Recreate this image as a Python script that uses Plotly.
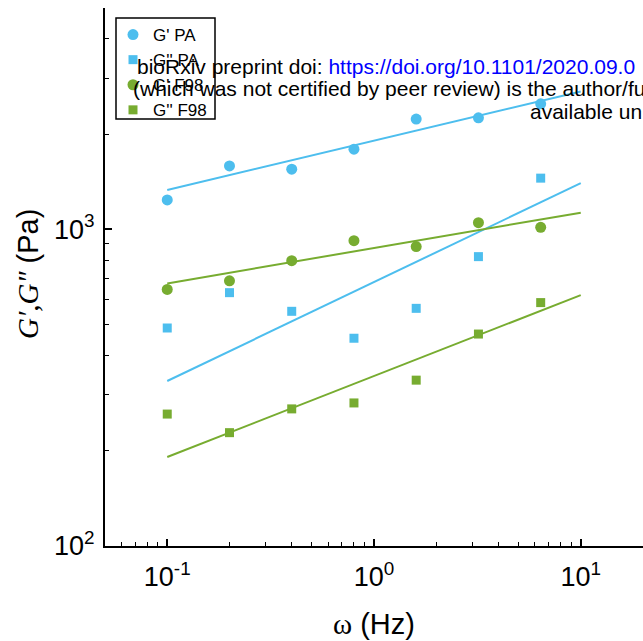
import plotly.graph_objects as go

# ---- data ----
freq = [0.1, 0.2, 0.4, 0.8, 1.6, 3.2, 6.4]
gp_pa = [1238, 1586, 1549, 1791, 2229, 2250, 2492]
gpp_pa = [488, 631, 551, 453, 563, 820, 1451]
gp_f98 = [646, 688, 796, 921, 882, 1050, 1015]
gpp_f98 = [261, 228, 271, 283, 334, 467, 587]

# power-law fit lines (end points at 0.1 Hz and 10 Hz)
fit_x = [0.1, 10]
fit_gp_pa = [1332, 2725]
fit_gpp_pa = [332, 1399]
fit_gp_f98 = [675, 1129]
fit_gpp_f98 = [191, 620]

x_tickvals = [0.1, 1, 10]
x_ticktext = ["10<sup>-1</sup>", "10<sup>0</sup>", "10<sup>1</sup>"]
y_tickvals = [100, 1000]
y_ticktext = ["10<sup>2</sup>", "10<sup>3</sup>"]

BLUE = "#4DBEEE"
GREEN = "#77AC30"
FONT = "Arial, Liberation Sans, sans-serif"
SERIF = "Times New Roman, Liberation Serif, serif"

W, H = 643, 641
ML, MR, MT, MB = 105, 0, 8, 95
PW, PH = W - ML - MR, H - MT - MB


def px(xp):
    return (xp - ML) / PW


def py(yp):
    return (H - MB - yp) / PH


fig = go.Figure()

for fy, col in [(fit_gp_pa, BLUE), (fit_gpp_pa, BLUE), (fit_gp_f98, GREEN), (fit_gpp_f98, GREEN)]:
    fig.add_trace(go.Scatter(x=fit_x, y=fy, mode="lines", line=dict(color=col, width=2),
                             showlegend=False, hoverinfo="skip"))

series = [
    ("G' PA", gp_pa, BLUE, "circle", 11),
    ("G'' PA", gpp_pa, BLUE, "square", 9),
    ("G' F98", gp_f98, GREEN, "circle", 11),
    ("G'' F98", gpp_f98, GREEN, "square", 9),
]
for name, ys, col, sym, sz in series:
    fig.add_trace(go.Scatter(x=freq, y=ys, mode="markers", name=name,
                             marker=dict(color=col, symbol=sym, size=sz, line=dict(width=0))))

axis_common = dict(type="log", showgrid=False, zeroline=False, showline=True,
                   linecolor="black", linewidth=2, ticks="inside", ticklen=7,
                   tickwidth=1.5, tickcolor="black", mirror=False,
                   tickfont=dict(family=FONT, size=27, color="black"))

fig.update_xaxes(range=[-1.30103, 1.30103], tickvals=x_tickvals, ticktext=x_ticktext,
                 minor=dict(ticks="inside", ticklen=4, tickwidth=1, tickcolor="black",
                            dtick="D1", showgrid=False),
                 ticklabelstandoff=6, **axis_common)
fig.update_yaxes(range=[2, 3.69897], tickvals=y_tickvals, ticktext=y_ticktext,
                 minor=dict(ticks="inside", ticklen=4, tickwidth=1, tickcolor="black",
                            dtick="D1", showgrid=False),
                 ticklabelstandoff=3, **axis_common)

annotations = [
    dict(text="<span style='font-family:" + SERIF + "'>ω</span> (Hz)",
         x=0.5, y=py(624), xref="paper", yref="paper", showarrow=False,
         xanchor="center", yanchor="middle", font=dict(family=FONT, size=29, color="black")),
    dict(text="<i><span style='font-family:" + SERIF + "'>G′,G″</span></i> (Pa)",
         x=px(28), y=py(274), xref="paper", yref="paper", showarrow=False, textangle=-90,
         xanchor="center", yanchor="middle", font=dict(family=FONT, size=29, color="black")),
    dict(text="bioRxiv preprint doi: <span style='color:#0000FF'>https://doi.org/10.1101/2020.09.0</span>",
         x=px(135), y=py(67), xref="paper", yref="paper", showarrow=False,
         xanchor="left", yanchor="middle", font=dict(family=FONT, size=21, color="black")),
    dict(text="(which was not certified by peer review) is the author/fu",
         x=px(131), y=py(89), xref="paper", yref="paper", showarrow=False,
         xanchor="left", yanchor="middle", font=dict(family=FONT, size=21, color="black")),
    dict(text="available un",
         x=px(528), y=py(111), xref="paper", yref="paper", showarrow=False,
         xanchor="left", yanchor="middle", font=dict(family=FONT, size=21, color="black")),
]

shapes = [dict(type="rect", xref="paper", yref="paper", x0=px(116), x1=px(215),
               y0=py(119), y1=py(18), line=dict(color="black", width=1.5),
               fillcolor="rgba(0,0,0,0)", layer="above")]

fig.update_layout(
    width=W, height=H,
    margin=dict(l=ML, r=MR, t=MT, b=MB, pad=0),
    paper_bgcolor="white", plot_bgcolor="white",
    showlegend=True,
    legend=dict(x=px(113), y=py(17), xanchor="left", yanchor="top",
                bgcolor="rgba(255,255,255,0)", borderwidth=0,
                font=dict(family=FONT, size=17, color="black"), tracegroupgap=0,
                itemwidth=30),
    annotations=annotations,
    shapes=shapes,
)

fig.write_html("out.html", config={"displayModeBar": False},
               post_script="document.body.style.margin='0';")
